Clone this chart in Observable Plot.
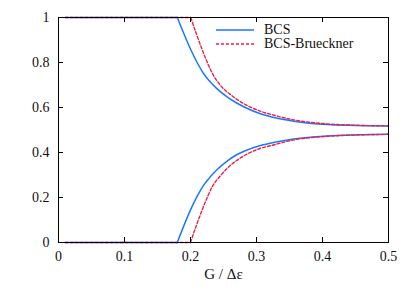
<!DOCTYPE html>
<html>
<head>
<meta charset="utf-8">
<script src="https://cdn.jsdelivr.net/npm/d3@7"></script>
<script src="https://cdn.jsdelivr.net/npm/@observablehq/plot@0.6"></script>
<style>
  html, body { margin: 0; padding: 0; background: #fff; }
  #wrap { position: relative; width: 415px; height: 290px; font-family: "Liberation Serif", serif; }
  #legend { position: absolute; left: 216px; top: 23.5px; font-family: "Liberation Serif", serif; font-size: 14px; color: #111; }
  #legend .row { display: flex; align-items: center; height: 13.5px; }
  #legend svg { margin-right: 10px; }
</style>
</head>
<body>
<div id="wrap"></div>
<script>
// Series names and colors
const seriesNames = ["BCS", "BCS-Brueckner"];
const seriesColors = ["#1a78ff", "#e8204f"];

// BCS (upper branch), flat part then curved part
const bcsUpperG = [0.01, 0.18, 0.19, 0.2, 0.21, 0.22, 0.228, 0.24, 0.2565, 0.27, 0.283, 0.306, 0.33, 0.3565, 0.407, 0.45, 0.5];
const bcsUpperV = [1, 1, 0.928, 0.86, 0.80, 0.75, 0.72, 0.684, 0.645, 0.62, 0.60, 0.572, 0.553, 0.539, 0.524, 0.52, 0.518];
// BCS (lower branch)
const bcsLowerG = [0.01, 0.18, 0.19, 0.2, 0.21, 0.22, 0.228, 0.24, 0.2565, 0.27, 0.283, 0.306, 0.33, 0.3565, 0.407, 0.45, 0.5];
const bcsLowerV = [0, 0, 0.075, 0.145, 0.205, 0.255, 0.285, 0.323, 0.364, 0.39, 0.408, 0.431, 0.447, 0.46, 0.473, 0.478, 0.481];
// BCS-Brueckner (upper branch)
const brUpperG = [0.01, 0.2005, 0.21, 0.22, 0.23, 0.236, 0.245, 0.2647, 0.2838, 0.3065, 0.33, 0.3565, 0.407, 0.45, 0.5];
const brUpperV = [1, 1, 0.918, 0.84, 0.77, 0.737, 0.70, 0.648, 0.612, 0.583, 0.563, 0.545, 0.527, 0.521, 0.518];
// BCS-Brueckner (lower branch)
const brLowerG = [0.01, 0.2, 0.21, 0.22, 0.2333, 0.2455, 0.2586, 0.2707, 0.2838, 0.296, 0.3065, 0.321, 0.3565, 0.407, 0.45, 0.5];
const brLowerV = [0, 0, 0.085, 0.162, 0.25, 0.297, 0.338, 0.366, 0.39, 0.407, 0.419, 0.43, 0.456, 0.472, 0.478, 0.481];

// Tick labels
const xTicks = [0, 0.1, 0.2, 0.3, 0.4, 0.5];
const yTicks = [0, 0.2, 0.4, 0.6, 0.8, 1];
const xLabel = "G / \u0394\u03B5";

// split each branch into its flat part (first two points) and its curved part
function rows(G, V, series, branch) {
  const out = [];
  G.forEach((g, i) => {
    if (i <= 1) out.push({g, v: V[i], series, seg: branch + "-flat"});
    if (i >= 1) out.push({g, v: V[i], series, seg: branch + "-curve"});
  });
  return out;
}
const data = [
  ...rows(bcsUpperG, bcsUpperV, "BCS", "u"),
  ...rows(bcsLowerG, bcsLowerV, "BCS", "l"),
  ...rows(brUpperG, brUpperV, "BCS-Brueckner", "u"),
  ...rows(brLowerG, brLowerV, "BCS-Brueckner", "l")
];

const font = "'Liberation Serif', serif";
const fmt = d => String(d);

const W = 415, H = 290, mL = 58, mR = 27, mT = 17, mB = 48;
const innerW = W - mL - mR, innerH = H - mT - mB, tickLen = 5;

const chart = Plot.plot({
  width: W,
  height: H,
  marginLeft: mL,
  marginRight: mR,
  marginTop: mT,
  marginBottom: mB,
  style: { fontFamily: font, fontSize: "14px", color: "#111", background: "#fff" },
  x: { domain: [0, 0.5] },
  y: { domain: [0, 1] },
  marks: [
    Plot.line(data.filter(d => d.series === "BCS"), {
      x: "g", y: "v", z: "seg", stroke: seriesColors[0], strokeWidth: 1.5, curve: "monotone-x"
    }),
    Plot.line(data.filter(d => d.series === "BCS-Brueckner"), {
      x: "g", y: "v", z: "seg", stroke: seriesColors[1], strokeWidth: 1.4, strokeDasharray: "3,2", curve: "monotone-x"
    }),
    Plot.frame({ stroke: "#000", strokeWidth: 1 }),
    // inward ticks on all four sides
    Plot.tickX(xTicks, { x: d => d, insetTop: innerH - tickLen, stroke: "#000" }),
    Plot.tickX(xTicks, { x: d => d, insetBottom: innerH - tickLen, stroke: "#000" }),
    Plot.tickY(yTicks, { y: d => d, insetRight: innerW - tickLen, stroke: "#000" }),
    Plot.tickY(yTicks, { y: d => d, insetLeft: innerW - tickLen, stroke: "#000" }),
    // tick labels
    Plot.axisX(xTicks, { anchor: "bottom", tickSize: 0, tickPadding: 9, tickFormat: fmt, label: null, fontFamily: font, fontSize: 14, fill: "#111" }),
    Plot.axisY(yTicks, { anchor: "left", tickSize: 0, tickPadding: 9, tickFormat: fmt, label: null, fontFamily: font, fontSize: 14, fill: "#111" }),
    Plot.text([xLabel], { frameAnchor: "bottom", dy: 36, fontSize: 15, fontFamily: font, fill: "#111", text: d => d })
  ]
});

const wrap = document.getElementById("wrap");
wrap.appendChild(chart);

const legend = document.createElement("div");
legend.id = "legend";
seriesNames.forEach((name, i) => {
  const row = document.createElement("div");
  row.className = "row";
  row.innerHTML = `<svg width="38" height="4"><line x1="0" x2="38" y1="2" y2="2" stroke="${seriesColors[i]}" stroke-width="1.4" ${i === 1 ? 'stroke-dasharray="3,2"' : ''}/></svg><span>${name}</span>`;
  legend.appendChild(row);
});
wrap.appendChild(legend);
</script>
</body>
</html>
